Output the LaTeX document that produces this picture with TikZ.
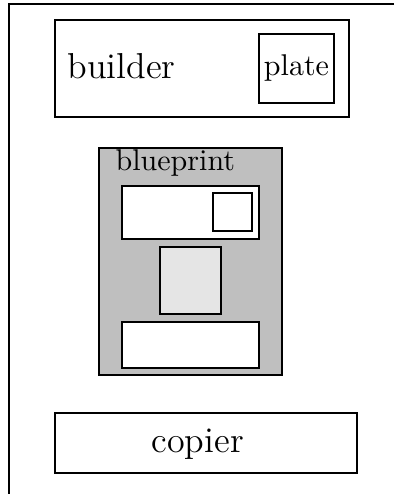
\documentclass[tikz,border=0pt]{standalone}
\usetikzlibrary{fit}
\begin{document}
\begin{tikzpicture}[x=0.333pt,y=-0.333pt,
  box/.style={draw, line width=0.35pt, inner sep=0pt, fill=white},
  txt/.style={inner sep=0pt, font=\normalsize},
  bigtxt/.style={inner sep=0pt, font=\large}]
\useasboundingbox (0,0) rectangle (394,494);
% outer frame corner
\coordinate (frameTR) at (394,4);
\coordinate (frameTL) at (9,4);
\coordinate (frameBL) at (9,494);
\draw[line width=0.35pt] (frameTR) -- (frameTL) -- (frameBL);
% builder with its plate
\node[box, fit={(55,20)(349,117)}] (builder) {};
\node[bigtxt, anchor=base west] (builderlbl) at (67,79) {builder};
\node[box, fit={(259,34)(334,103)}] (plate) {};
\node[txt] (platelbl) at (plate.center) {plate};
% blueprint
\node[box, fill=gray!50, fit={(99,148)(282,375)}] (blueprint) {};
\node[txt, anchor=base west] (blueprintlbl) at (115,171) {blueprint};
\node[box, fit={(122,186)(259,239)}] (bptop) {};
\node[box, fit={(213,193)(252,231)}] (bpsquare) {};
\node[box, fill=gray!20, fit={(160,247)(221,314)}] (bpmid) {};
\node[box, fit={(122,322)(259,368)}] (bpbottom) {};
% copier
\node[box, fit={(55,413)(357,473)}] (copier) {};
\node[bigtxt, anchor=base west] (copierlbl) at (151,452) {copier};
\end{tikzpicture}
\end{document}
